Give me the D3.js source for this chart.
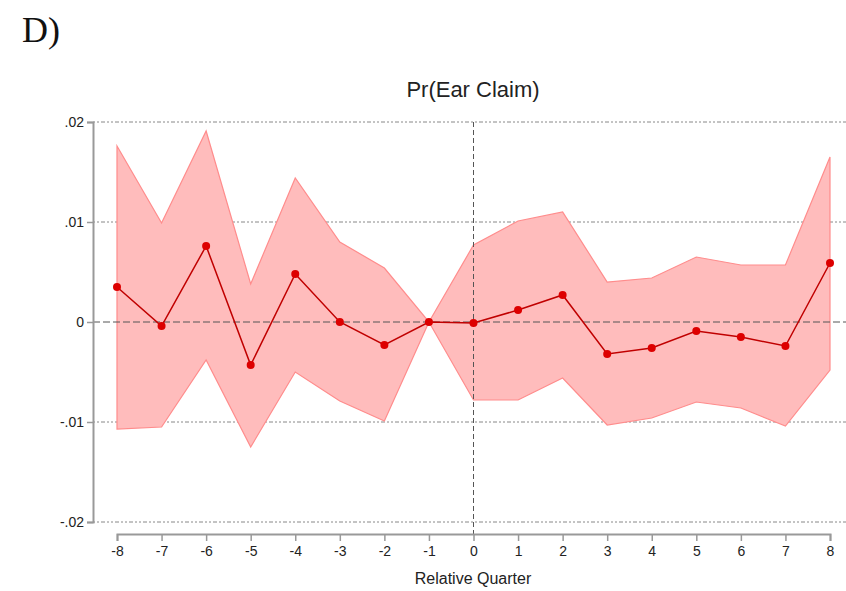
<!DOCTYPE html>
<html>
<head>
<meta charset="utf-8">
<script src="https://cdn.jsdelivr.net/npm/d3@7"></script>
<style>
  body { margin: 0; background: #fff; }
  svg { display: block; }
</style>
</head>
<body>
<script>
// relative quarters and estimates
var quarters = [-8, -7, -6, -5, -4, -3, -2, -1, 0, 1, 2, 3, 4, 5, 6, 7, 8];
var estimate = [0.0035, -0.0004, 0.0076, -0.0043, 0.0048, 0.0000, -0.0023, 0.0000, -0.0001, 0.0012, 0.0027, -0.0032, -0.0026, -0.0009, -0.0015, -0.0024, 0.0059];
var upperCI  = [0.0176, 0.0099, 0.0191, 0.0038, 0.0144, 0.0080, 0.0054, 0.0000, 0.0077, 0.0101, 0.0110, 0.0040, 0.0044, 0.0065, 0.0057, 0.0057, 0.0165];
var lowerCI  = [-0.0107, -0.0105, -0.0038, -0.0125, -0.0050, -0.0079, -0.0099, 0.0000, -0.0078, -0.0078, -0.0056, -0.0103, -0.0096, -0.0080, -0.0086, -0.0104, -0.0048];
var yTicks = [-0.02, -0.01, 0, 0.01, 0.02];
var yTickLabels = ["-.02", "-.01", "0", ".01", ".02"];

var W = 846, H = 591;
var svg = d3.select('body').append('svg').attr('width', W).attr('height', H);

var x = d3.scaleLinear().domain([-8, 8]).range([117, 830]);
var y = d3.scaleLinear().domain([-0.02, 0.02]).range([522, 122]);

var pts = quarters.map(function(q, i) {
    return {q: q, est: estimate[i], hi: upperCI[i], lo: lowerCI[i]};
});

// panel letter
svg.append('text')
    .attr('x', 22).attr('y', 42)
    .attr('font-family', 'Liberation Serif, DejaVu Serif, serif')
    .attr('font-size', 36)
    .attr('fill', '#111')
    .text('D)');

// title
svg.append('text')
    .attr('x', 473).attr('y', 97)
    .attr('text-anchor', 'middle')
    .attr('font-family', 'Liberation Sans, Arial, sans-serif')
    .attr('font-size', 22)
    .attr('fill', '#222')
    .text('Pr(Ear Claim)');

// gridlines
svg.append('g').selectAll('line')
    .data(yTicks.filter(function(t) { return t !== 0; }))
    .enter().append('line')
    .attr('x1', 93).attr('x2', W)
    .attr('y1', function(d) { return y(d); })
    .attr('y2', function(d) { return y(d); })
    .attr('stroke', '#888')
    .attr('stroke-width', 1)
    .attr('stroke-dasharray', '2,2,2,2,4,2');

// CI band
var area = d3.area()
    .x(function(d) { return x(d.q); })
    .y0(function(d) { return y(d.lo); })
    .y1(function(d) { return y(d.hi); });

svg.append('path')
    .datum(pts)
    .attr('d', area)
    .attr('fill', '#ffbcbc')
    .attr('stroke', '#ff8c8c')
    .attr('stroke-width', 1.2);

// zero line and event line
svg.append('line')
    .attr('x1', 93).attr('x2', W)
    .attr('y1', y(0)).attr('y2', y(0))
    .attr('stroke', '#555').attr('stroke-width', 1)
    .attr('stroke-dasharray', '7,3');

svg.append('line')
    .attr('x1', x(0)).attr('x2', x(0))
    .attr('y1', 122).attr('y2', 534)
    .attr('stroke', '#555').attr('stroke-width', 1)
    .attr('stroke-dasharray', '5,3');

// estimate line and points
var line = d3.line()
    .x(function(d) { return x(d.q); })
    .y(function(d) { return y(d.est); });

svg.append('path')
    .datum(pts)
    .attr('d', line)
    .attr('fill', 'none')
    .attr('stroke', '#c00000')
    .attr('stroke-width', 1.5);

svg.append('g').selectAll('circle')
    .data(pts)
    .enter().append('circle')
    .attr('cx', function(d) { return x(d.q); })
    .attr('cy', function(d) { return y(d.est); })
    .attr('r', 4)
    .attr('fill', '#dd0000');

// axes
var yAxis = d3.axisLeft(y)
    .tickValues(yTicks)
    .tickFormat(function(d, i) { return yTickLabels[i]; })
    .tickSize(6).tickPadding(3);

var gy = svg.append('g').attr('transform', 'translate(93,0)').call(yAxis);

var xAxis = d3.axisBottom(x)
    .tickValues(quarters)
    .tickFormat(function(d) { return String(d); }) // plain hyphen, not unicode minus
    .tickSize(7).tickPadding(5);

var gx = svg.append('g').attr('transform', 'translate(0,534)').call(xAxis);

[gx, gy].forEach(function(g) {
    g.select('.domain').attr('stroke', '#999').attr('stroke-width', 2);
    g.selectAll('.tick line').attr('stroke', '#999').attr('stroke-width', 1.5);
    g.selectAll('.tick text')
        .attr('font-family', 'Liberation Sans, Arial, sans-serif')
        .attr('font-size', 14)
        .attr('fill', '#222');
});

// x title
svg.append('text')
    .attr('x', 473).attr('y', 584)
    .attr('text-anchor', 'middle')
    .attr('font-family', 'Liberation Sans, Arial, sans-serif')
    .attr('font-size', 16)
    .attr('fill', '#222')
    .text('Relative Quarter');
</script>
</body>
</html>
